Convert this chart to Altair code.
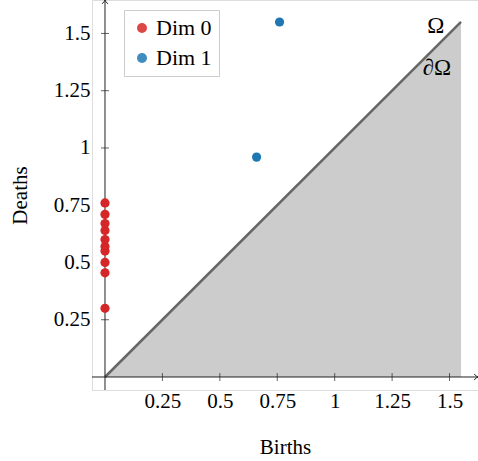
import altair as alt
import pandas as pd

# ---- data ----
dim0_birth = [0, 0, 0, 0, 0, 0, 0, 0, 0, 0]
dim0_death = [0.76, 0.71, 0.67, 0.64, 0.60, 0.57, 0.55, 0.50, 0.455, 0.30]
dim1_birth = [0.66, 0.76]
dim1_death = [0.96, 1.55]
series_names = ["Dim 0", "Dim 1"]
series_colors = ["#d62728", "#1f77b4"]
diag_end = 1.55
x_tick_values = [0.25, 0.5, 0.75, 1, 1.25, 1.5]
y_tick_values = [0.25, 0.5, 0.75, 1, 1.25, 1.5]
region_labels = ["Ω", "∂Ω"]
region_label_x = [1.44, 1.445]
region_label_y = [1.533, 1.35]

# ---- layout ----
FONT = "Liberation Serif"
X_DOM = [-0.0566, 1.624]
Y_DOM = [-0.0568, 1.646]
W, H = 386, 390
AXIS_COLOR = "#222222"
LABEL_EXPR = "datum.value + ''"

xs = alt.Scale(domain=X_DOM, nice=False, zero=False)
ys = alt.Scale(domain=Y_DOM, nice=False, zero=False)

x_axis = alt.Axis(values=x_tick_values, labelExpr=LABEL_EXPR, domain=False, ticks=False, grid=False,
                  labelFont=FONT, labelFontSize=21, labelColor="black", labelPadding=0,
                  labelFlush=False, labelOverlap=False,
                  title="Births", titleFont=FONT, titleFontSize=21, titleFontWeight="normal",
                  titleColor="black", titleY=63, titleBaseline="alphabetic")
y_axis = alt.Axis(values=y_tick_values, labelExpr=LABEL_EXPR, domain=False, ticks=False, grid=False,
                  labelFont=FONT, labelFontSize=21, labelColor="black", labelPadding=2,
                  labelFlush=False, labelOverlap=False,
                  title="Deaths", titleFont=FONT, titleFontSize=21, titleFontWeight="normal",
                  titleColor="black", titleX=-66, titleBaseline="alphabetic")


def X(field="x"):
    return alt.X(f"{field}:Q", scale=xs, axis=x_axis)


def Y(field="y"):
    return alt.Y(f"{field}:Q", scale=ys, axis=y_axis)


# region under the diagonal
tri = pd.DataFrame({"x": [0, diag_end], "y": [0, diag_end], "y0": [0, 0]})
area = alt.Chart(tri).mark_area(color="#cccccc", opacity=1).encode(
    x=X(), y=Y(), y2=alt.Y2("y0:Q"))
diag = alt.Chart(tri).mark_line(color="#666666", strokeWidth=2.5).encode(x=X(), y=Y())

# axis lines through origin
xline_df = pd.DataFrame({"x": [X_DOM[0]], "x2": [X_DOM[1]], "y": [0]})
yline_df = pd.DataFrame({"x": [0], "y": [Y_DOM[0]], "y2": [Y_DOM[1]]})
xline = alt.Chart(xline_df).mark_rule(color=AXIS_COLOR, strokeWidth=1).encode(
    x=X(), x2=alt.X2("x2:Q"), y=Y())
yline = alt.Chart(yline_df).mark_rule(color=AXIS_COLOR, strokeWidth=1).encode(
    x=X(), y=Y(), y2=alt.Y2("y2:Q"))

# tick marks crossing the axes
xt_df = pd.DataFrame({"x": x_tick_values, "y": [0] * len(x_tick_values)})
yt_df = pd.DataFrame({"x": [0] * len(y_tick_values), "y": y_tick_values})
xticks = alt.Chart(xt_df).mark_tick(orient="vertical", size=8, thickness=1, color=AXIS_COLOR).encode(
    x=X(), y=Y())
yticks = alt.Chart(yt_df).mark_tick(orient="horizontal", size=8, thickness=1, color=AXIS_COLOR).encode(
    x=X(), y=Y())

# arrow heads
ARROW = "M -1 -0.75 Q -0.35 -0.1 0 0 Q -0.35 0.1 -1 0.75"
xarrow = alt.Chart(pd.DataFrame({"x": [X_DOM[1]], "y": [0]})).mark_point(
    shape=ARROW, filled=False, size=60, strokeWidth=1, color=AXIS_COLOR, opacity=1).encode(x=X(), y=Y())
yarrow = alt.Chart(pd.DataFrame({"x": [0], "y": [Y_DOM[1]]})).mark_point(
    shape=ARROW, filled=False, size=60, strokeWidth=1, color=AXIS_COLOR, opacity=1, angle=270).encode(x=X(), y=Y())

# persistence points
pts = pd.DataFrame({
    "x": dim0_birth + dim1_birth,
    "y": dim0_death + dim1_death,
    "dim": [series_names[0]] * len(dim0_birth) + [series_names[1]] * len(dim1_birth),
})
points = alt.Chart(pts).mark_circle(size=85, opacity=1).encode(
    x=X(), y=Y(),
    color=alt.Color("dim:N", scale=alt.Scale(domain=series_names, range=series_colors),
                    legend=alt.Legend(title=None, orient="none", legendX=32, legendY=10,
                                      fillColor="white", strokeColor="#cccccc", padding=7,
                                      symbolType="circle", symbolSize=100, symbolOpacity=0.85,
                                      symbolStrokeWidth=0,
                                      labelFont=FONT, labelFontSize=22, labelColor="black",
                                      labelOffset=3, rowPadding=8)))

# region labels
lab_df = pd.DataFrame({"x": region_label_x, "y": region_label_y, "t": region_labels})
labels = alt.Chart(lab_df).mark_text(font=FONT, fontSize=23, color="black", baseline="middle",
                                     align="center").encode(x=X(), y=Y(), text="t:N")

chart = alt.layer(area, diag, xline, yline, xticks, yticks, xarrow, yarrow, points, labels).properties(
    width=W, height=H,
    autosize=alt.AutoSizeParams(type="none"),
    padding={"left": 92, "top": 0, "right": 0, "bottom": 71},
).configure_view(stroke=None).configure(background="white")

chart.save("out.html", embed_options={"renderer": "svg", "actions": False})
